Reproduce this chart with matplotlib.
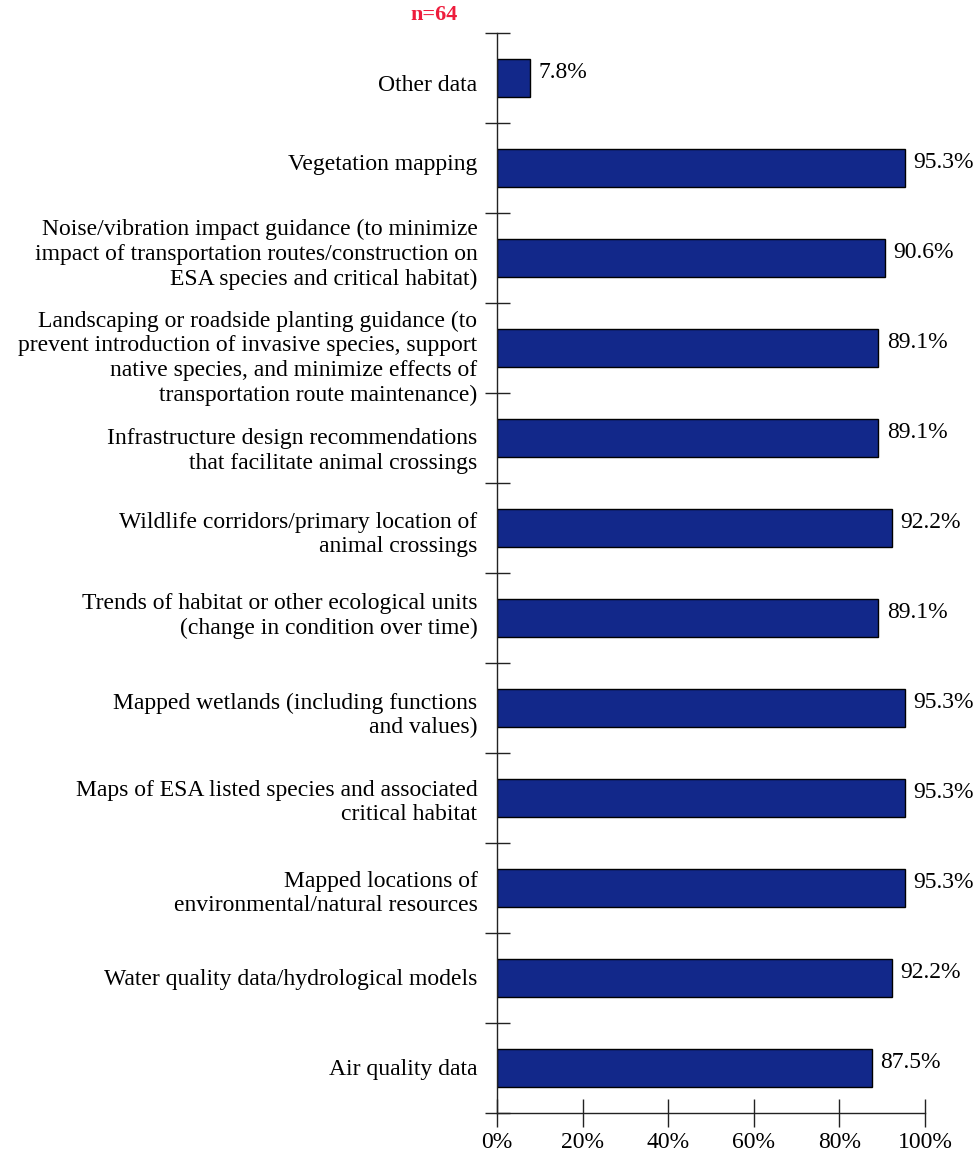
import numpy as np
import matplotlib.pyplot as plt
from matplotlib.ticker import FixedLocator
from matplotlib.transforms import ScaledTranslation

plt.rcParams['font.family'] = ['Liberation Serif', 'DejaVu Serif']

categories = [
    "Other data",
    "Vegetation mapping",
    "Noise/vibration impact guidance (to minimize\nimpact of transportation routes/construction on\nESA species and critical habitat)",
    "Landscaping or roadside planting guidance (to\nprevent introduction of invasive species, support\nnative species, and minimize effects of\ntransportation route maintenance)",
    "Infrastructure design recommendations\nthat facilitate animal crossings",
    "Wildlife corridors/primary location of\nanimal crossings",
    "Trends of habitat or other ecological units\n(change in condition over time)",
    "Mapped wetlands (including functions\nand values)",
    "Maps of ESA listed species and associated\ncritical habitat",
    "Mapped locations of\nenvironmental/natural resources",
    "Water quality data/hydrological models",
    "Air quality data",
]
values = [7.8, 95.3, 90.6, 89.1, 89.1, 92.2, 89.1, 95.3, 95.3, 95.3, 92.2, 87.5]
x_ticks = [0, 20, 40, 60, 80, 100]
x_labels = ["0%", "20%", "40%", "60%", "80%", "100%"]

# small vertical nudges (pixels, down is positive) for the category labels
label_nudge = [5, -6, -8, 6, 9, 2, -6, 3, 0, 1, -1, -1]

fs = 17
fig = plt.figure(figsize=(9.8, 11.57), dpi=100)
ax = fig.add_axes([0.507, 0.038, 0.437, 0.9335])

n = len(categories)
ypos = np.arange(n)
ax.barh(ypos, values, height=0.42, color='#12288a', edgecolor='black', linewidth=1)

for y, v in zip(ypos, values):
    ax.text(v + 2, y - 0.06, f"{v}%", va='center', ha='left', fontsize=fs)

ax.set_xlim(0, 100)
ax.set_ylim(n - 0.5, -0.5)

ax.set_yticks(ypos)
ax.set_yticklabels(categories, fontsize=fs, linespacing=1.23)
ax.tick_params(axis='y', which='major', length=0, pad=14)
for lab, dy in zip(ax.get_yticklabels(), label_nudge):
    lab.set_transform(lab.get_transform() + ScaledTranslation(0, -dy / 100, fig.dpi_scale_trans))
ax.yaxis.set_minor_locator(FixedLocator(np.arange(n + 1) - 0.5))
ax.tick_params(axis='y', which='minor', direction='inout', length=18, width=1, color='#222222')

ax.set_xticks(x_ticks)
ax.set_xticklabels(x_labels, fontsize=fs)
ax.tick_params(axis='x', direction='inout', length=20, width=1, color='#222222', pad=4)

for s in ['top', 'right']:
    ax.spines[s].set_visible(False)
for s in ['left', 'bottom']:
    ax.spines[s].set_color('#222222')
    ax.spines[s].set_linewidth(1)

fig.text(0.443, 0.987, "n=64", color='#ee1c3c', fontsize=fs - 1, fontweight='bold',
         ha='center', va='center')

fig.savefig('out.png', dpi=100)
